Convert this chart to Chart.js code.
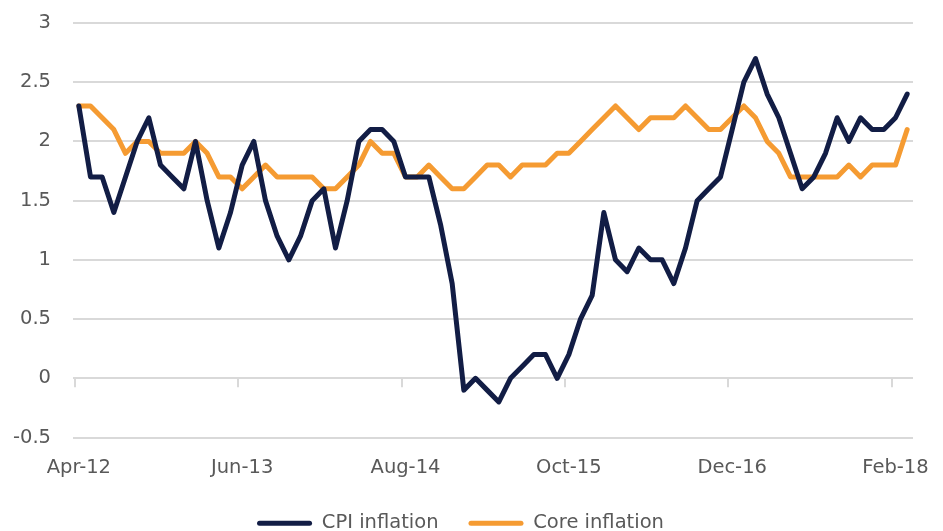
<!DOCTYPE html>
<html>
<head>
<meta charset="utf-8">
<script src="https://cdn.jsdelivr.net/npm/chart.js@4/dist/chart.umd.min.js"></script>
<style>
  html, body { margin: 0; padding: 0; background: #fff; }
  #wrap { width: 943px; height: 531px; }
</style>
</head>
<body>
<div id="wrap"><canvas id="chart" width="943" height="531"></canvas></div>
<script>
// months Apr-12 .. Mar-18
const monthNames = ["Jan","Feb","Mar","Apr","May","Jun","Jul","Aug","Sep","Oct","Nov","Dec"]
const months = []
for (let k = 0; k < 72; k++) {
    const m = (3 + k) % 12
    const y = 12 + Math.floor((3 + k) / 12)
    months.push(monthNames[m] + "-" + y)
}

const cpiInflation = [
    2.3, 1.7, 1.7, 1.4, 1.7, 2.0, 2.2, 1.8, 1.7, 1.6, 2.0, 1.5,
    1.1, 1.4, 1.8, 2.0, 1.5, 1.2, 1.0, 1.2, 1.5, 1.6, 1.1, 1.5,
    2.0, 2.1, 2.1, 2.0, 1.7, 1.7, 1.7, 1.3, 0.8, -0.1, 0.0, -0.1,
    -0.2, 0.0, 0.1, 0.2, 0.2, 0.0, 0.2, 0.5, 0.7, 1.4, 1.0, 0.9,
    1.1, 1.0, 1.0, 0.8, 1.1, 1.5, 1.6, 1.7, 2.1, 2.5, 2.7, 2.4,
    2.2, 1.9, 1.6, 1.7, 1.9, 2.2, 2.0, 2.2, 2.1, 2.1, 2.2, 2.4
]

const coreInflation = [
    2.3, 2.3, 2.2, 2.1, 1.9, 2.0, 2.0, 1.9, 1.9, 1.9, 2.0, 1.9,
    1.7, 1.7, 1.6, 1.7, 1.8, 1.7, 1.7, 1.7, 1.7, 1.6, 1.6, 1.7,
    1.8, 2.0, 1.9, 1.9, 1.7, 1.7, 1.8, 1.7, 1.6, 1.6, 1.7, 1.8,
    1.8, 1.7, 1.8, 1.8, 1.8, 1.9, 1.9, 2.0, 2.1, 2.2, 2.3, 2.2,
    2.1, 2.2, 2.2, 2.2, 2.3, 2.2, 2.1, 2.1, 2.2, 2.3, 2.2, 2.0,
    1.9, 1.7, 1.7, 1.7, 1.7, 1.7, 1.8, 1.7, 1.8, 1.8, 1.8, 2.1
]

const labelEvery = 14
const yMin = -0.5
const yMax = 3

const gridColor = "#d9d9d9"
const textColor = "#595959"

// small tick marks hanging from the zero line, like the excel original
const zeroTicks = {
    id: "zeroTicks",
    beforeDatasetsDraw(chart) {
        const xs = chart.scales.x
        const ys = chart.scales.y
        const y0 = ys.getPixelForValue(0)
        const ctx = chart.ctx
        ctx.save()
        ctx.strokeStyle = gridColor
        ctx.lineWidth = 2
        ctx.beginPath()
        for (let i = 0; i < months.length; i += labelEvery) {
            const x = Math.round(xs.getPixelForValue(i)) - 4
            ctx.moveTo(x, y0)
            ctx.lineTo(x, y0 + 9)
        }
        ctx.stroke()
        ctx.restore()
    }
}

Chart.defaults.font.family = "'DejaVu Sans', sans-serif"
Chart.defaults.color = textColor

new Chart(document.getElementById("chart").getContext("2d"), {
    type: "line",
    data: {
        labels: months,
        datasets: [
            {
                label: "CPI inflation",
                data: cpiInflation,
                borderColor: "#121d45",
                backgroundColor: "#121d45",
                borderWidth: 5,
                pointRadius: 0,
                tension: 0,
                borderJoinStyle: "round",
                borderCapStyle: "round",
            },
            {
                label: "Core inflation",
                data: coreInflation,
                borderColor: "#f59b32",
                backgroundColor: "#f59b32",
                borderWidth: 5,
                pointRadius: 0,
                tension: 0,
                borderJoinStyle: "round",
                borderCapStyle: "round",
            },
        ],
    },
    options: {
        responsive: false,
        animation: false,
        layout: { padding: { left: 8, right: 30, top: 23, bottom: -12 } },
        plugins: {
            tooltip: { enabled: false },
            legend: {
                position: "bottom",
                labels: {
                    boxWidth: 55,
                    boxHeight: 5,
                    useBorderRadius: true,
                    borderRadius: 2.5,
                    padding: 30,
                    font: { size: 19.5 },
                    color: textColor,
                    // thin filled bar, no extra stroke around it
                    generateLabels: (chart) =>
                        Chart.defaults.plugins.legend.labels.generateLabels(chart)
                            .map(l => ({ ...l, lineWidth: 0 })),
                },
            },
        },
        scales: {
            x: {
                offset: true,
                grid: { display: false, drawTicks: false },
                border: { display: false },
                ticks: {
                    autoSkip: false,
                    maxRotation: 0,
                    minRotation: 0,
                    padding: 19,
                    font: { size: 19.5 },
                    callback: (v, i) => (i % labelEvery === 0 ? months[i] : ""),
                },
                afterFit(scale) { scale.height = 46 },
            },
            y: {
                min: yMin,
                max: yMax,
                grid: {
                    color: gridColor,
                    lineWidth: 2,
                    drawTicks: true,
                    tickLength: 22,
                    tickColor: "rgba(0,0,0,0)",
                },
                border: { display: false },
                ticks: {
                    stepSize: 0.5,
                    padding: 0,
                    font: { size: 19.5 },
                    callback: (v) => String(Number(v.toFixed(2))),
                },
                afterFit(scale) { scale.width = 65 },
            },
        },
    },
    plugins: [zeroTicks],
})
</script>
</body>
</html>
